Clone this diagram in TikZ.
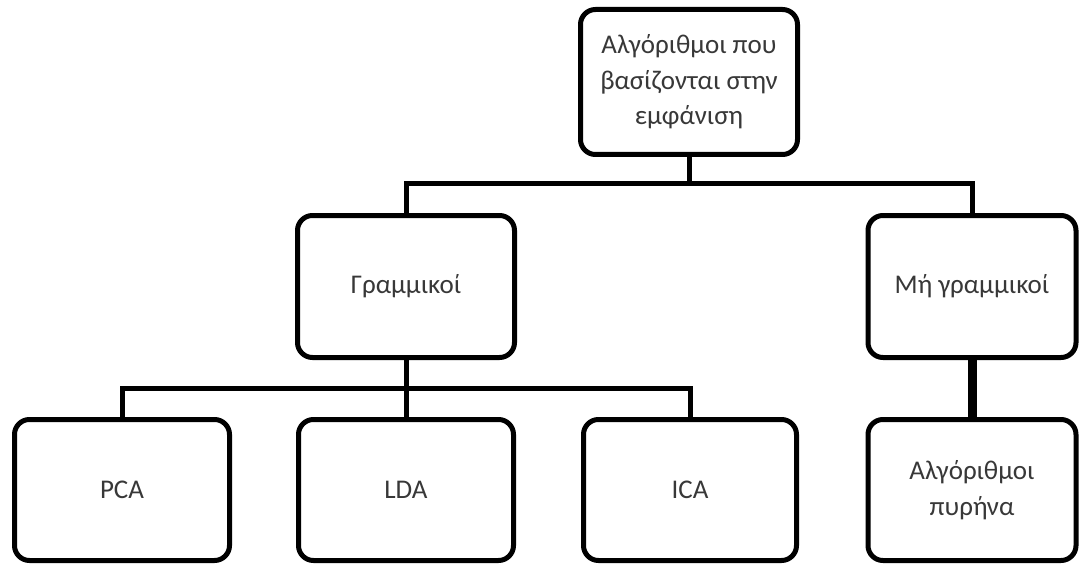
\documentclass[tikz,border=0pt]{standalone}
\usepackage{fontspec}
\setmainfont{Carlito}
\begin{document}
\begin{tikzpicture}[x=1pt,y=-1pt,
  box/.style={draw=black,line width=5pt,rounded corners=15pt,fill=white,
    align=center,text=black!78,font=\fontsize{27}{35.5}\selectfont,inner sep=0pt},
  wire/.style={draw=black,line width=5pt,line join=miter},
  thick wire/.style={draw=black,line width=9pt}]
\useasboundingbox (0,0) rectangle (1079,567);
% tree nodes
\node[box,minimum width=217pt,minimum height=145pt] (top) at (689,82) {Αλγόριθμοι που\\βασίζονται στην\\εμφάνιση};
\node[box,minimum width=217pt,minimum height=142pt] (lin) at (406,286.5) {Γραμμικοί};
\node[box,minimum width=208pt,minimum height=142pt] (nonlin) at (972,286.5) {Μή γραμμικοί};
\node[box,minimum width=215pt,minimum height=141pt] (pca) at (122,490) {PCA};
\node[box,minimum width=215pt,minimum height=141pt] (lda) at (406,490) {LDA};
\node[box,minimum width=213pt,minimum height=141pt] (ica) at (690,490) {ICA};
\node[box,minimum width=208pt,minimum height=141pt] (kernel) at (972,490) {Αλγόριθμοι\\πυρήνα};
% bus junctions
\coordinate (b1) at (689,183);
\coordinate (b2) at (406,388);
% connectors
\draw[wire] (top.south) -- (b1);
\draw[wire] (lin.north) |- (b1) -| (nonlin.north);
\draw[wire] (lin.south) -- (lda.north);
\draw[wire] (pca.north) |- (b2) -| (ica.north);
\draw[thick wire] (nonlin.south) -- (kernel.north);
\end{tikzpicture}
\end{document}
